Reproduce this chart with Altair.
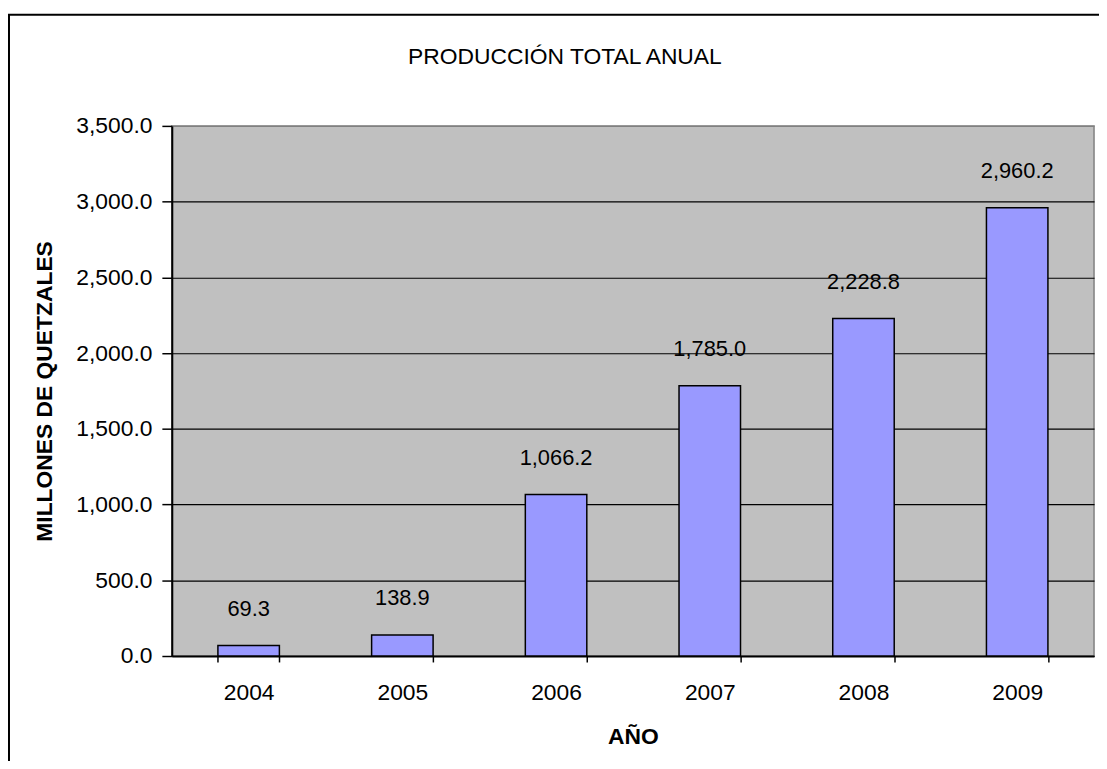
import altair as alt
import pandas as pd

years = ["2004", "2005", "2006", "2007", "2008", "2009"]
values = [69.3, 138.9, 1066.2, 1785.0, 2228.8, 2960.2]
y_ticks = [0, 500, 1000, 1500, 2000, 2500, 3000, 3500]
chart_title = "PRODUCCIÓN TOTAL ANUAL"

df = pd.DataFrame({"year": years, "value": values})
frame_df = pd.DataFrame({"k": [0]})
title_df = pd.DataFrame({"t": [chart_title]})

FONT = "Liberation Sans"

x_enc = alt.X(
    "year:N",
    sort=years,
    scale=alt.Scale(paddingInner=0.6, paddingOuter=0.3),
    axis=alt.Axis(
        title="AÑO",
        titleFont=FONT,
        titleFontSize=23,
        titleFontWeight="bold",
        titleColor="black",
        titleBaseline="alphabetic",
        titleY=88,
        labelAngle=0,
        labelFont=FONT,
        labelFontSize=23,
        labelColor="black",
        labelPadding=20,
        tickBand="extent",
        tickSize=6,
        tickColor="black",
        tickWidth=1.5,
        domainColor="black",
        domainWidth=2,
        grid=False,
    ),
)

y_enc = alt.Y(
    "value:Q",
    scale=alt.Scale(domain=[0, 3500], nice=False),
    axis=alt.Axis(
        title="MILLONES DE QUETZALES",
        titleFont=FONT,
        titleFontSize=23,
        titleFontWeight="bold",
        titleColor="black",
        titleAngle=270,
        titleBaseline="middle",
        titleAlign="center",
        titleX=-128,
        titleY=267,
        values=y_ticks,
        format=",.1f",
        labelFont=FONT,
        labelFontSize=23,
        labelColor="black",
        labelPadding=10,
        tickSize=10,
        tickColor="black",
        tickWidth=1.5,
        domainColor="black",
        domainWidth=2,
        grid=True,
        gridColor={"condition": {"test": "datum.value === 3500", "value": "#808080"}, "value": "black"},
        gridWidth=1.2,
    ),
)

base = alt.Chart(df).encode(x=x_enc, y=y_enc)

bars = base.mark_bar(color="#9999FF", stroke="black", strokeWidth=1.5)

labels = base.mark_text(
    dy=-37, baseline="middle", align="center", font=FONT, fontSize=22, color="black"
).encode(text=alt.Text("value:Q", format=",.1f"))

frame = alt.Chart(frame_df).mark_rect(
    fill=None, stroke="black", strokeWidth=2, clip=False
).encode(
    x=alt.value(-164), x2=alt.value(960), y=alt.value(-112), y2=alt.value(720)
)

title_mark = alt.Chart(title_df).mark_text(
    font=FONT, fontSize=23, color="black", align="center", baseline="alphabetic", clip=False
).encode(
    x=alt.value(396), y=alt.value(-62), text="t:N"
)

chart = alt.layer(frame, bars, labels, title_mark).properties(
    width=929,
    height=534,
    autosize=alt.AutoSizeParams(type="none"),
    padding={"left": 165, "top": 116, "right": 5, "bottom": 103},
    background="white",
).configure_view(
    fill="#C0C0C0", stroke="#808080", strokeWidth=1.5
)

chart.save("out.html", embed_options={"renderer": "svg", "actions": False})
